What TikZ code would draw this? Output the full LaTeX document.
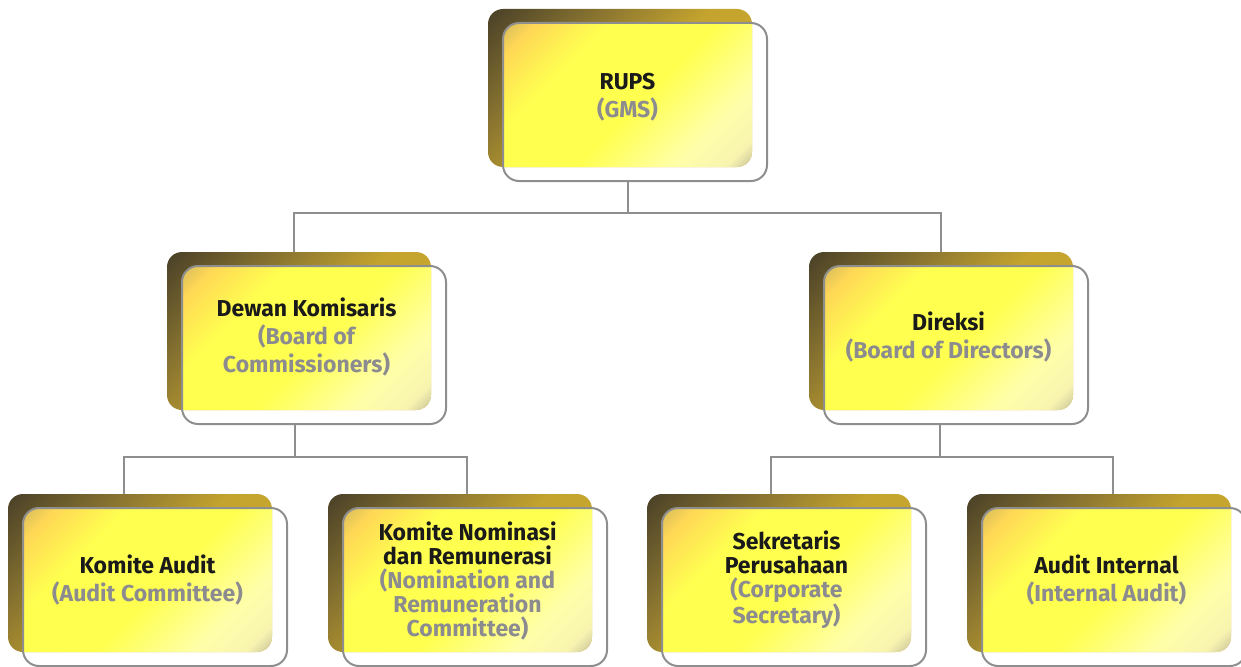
\documentclass[tikz,border=0pt]{standalone}
\usepackage{fontspec}
\setmainfont{Fira Sans}
\definecolor{bk0}{HTML}{4A4128}
\definecolor{bk1}{HTML}{8A7530}
\definecolor{bk2}{HTML}{C4A42E}
\definecolor{bk3}{HTML}{D0AE30}
\definecolor{fy0}{HTML}{C4AE62}
\definecolor{fy1}{HTML}{FFD855}
\definecolor{fy2}{HTML}{FFFF50}
\definecolor{fy3}{HTML}{FFFFA8}
\definecolor{fy4}{HTML}{F8F4B0}
\definecolor{fy5}{HTML}{B8B090}
\definecolor{linegray}{HTML}{8E8E8E}
\definecolor{tgray}{HTML}{8B8B90}
\definecolor{tblack}{HTML}{1A1A1A}
\pgfdeclarehorizontalshading{backshade}{100bp}{color(0bp)=(bk0); color(15bp)=(bk0); color(34bp)=(bk1); color(52bp)=(bk2); color(100bp)=(bk3)}
\pgfdeclarehorizontalshading{frontshade}{100bp}{color(0bp)=(fy0); color(17bp)=(fy0); color(25bp)=(fy1); color(37bp)=(fy2); color(56bp)=(fy2); color(72bp)=(fy3); color(81bp)=(fy4); color(87bp)=(fy5); color(100bp)=(fy5)}
\tikzset{
  backbox/.style={shade, shading=backshade, shading angle=-45, rounded corners=15pt},
  frontfill/.style={shade, shading=frontshade, shading angle=-45, rounded corners=15pt},
  frontline/.style={draw=linegray, line width=2pt, rounded corners=16pt},
  conn/.style={draw=linegray, line width=2pt},
  lbl/.style={align=center, text=tblack, font=\bfseries\fontsize{23}{28}\selectfont, inner sep=0pt},
  lbltight/.style={lbl, font=\bfseries\fontsize{23}{24}\selectfont},
}
\newcommand\orgbox[6]{%
  \path[backbox] (#2,-#3) rectangle ++(264,-158);
  \begin{scope}
    \clip[rounded corners=16pt] (#2+15,-#3-14) rectangle ++(264,-158);
    \path[frontfill] (#2,-#3) rectangle ++(264,-158);
  \end{scope}
  \path[frontline] (#2+15,-#3-14) rectangle ++(264,-158);
  \node[#5] (#1) at (#2+139.5,-#3-#6) {#4};
}
\begin{document}
\begin{tikzpicture}[x=1pt,y=1pt]
\clip (0,0) rectangle (1241,-666);
\orgbox{rups}{488}{9}{RUPS\\\color{tgray}(GMS)}{lbl}{88}
\orgbox{dewan}{167}{252}{Dewan Komisaris\\\color{tgray}(Board of\\\color{tgray}Commissioners)}{lbl}{85}
\orgbox{direksi}{809}{252}{Direksi\\\color{tgray}(Board of Directors)}{lbl}{85}
\orgbox{audit}{8}{494}{Komite Audit\\\color{tgray}(Audit Committee)}{lbl}{86}
\orgbox{nomin}{328}{494}{Komite Nominasi\\dan Remunerasi\\\color{tgray}(Nomination and\\\color{tgray}Remuneration\\\color{tgray}Committee)}{lbltight}{87}
\orgbox{sekr}{647}{494}{Sekretaris\\Perusahaan\\\color{tgray}(Corporate\\\color{tgray}Secretary)}{lbltight}{86}
\orgbox{intern}{967}{494}{Audit Internal\\\color{tgray}(Internal Audit)}{lbl}{86}
% connection points
\coordinate (rups-out) at (628,-182);
\coordinate (dewan-in) at (294,-252);
\coordinate (direksi-in) at (941,-252);
\coordinate (dewan-out) at (295,-424);
\coordinate (direksi-out) at (940,-424);
\coordinate (audit-in) at (124,-494);
\coordinate (nomin-in) at (467,-494);
\coordinate (sekr-in) at (771,-494);
\coordinate (intern-in) at (1113,-494);
\draw[conn] (rups-out) -- ++(0,-31) -| (dewan-in);
\draw[conn] (rups-out) -- ++(0,-31) -| (direksi-in);
\draw[conn] (dewan-out) -- ++(0,-33) -| (audit-in);
\draw[conn] (dewan-out) -- ++(0,-33) -| (nomin-in);
\draw[conn] (direksi-out) -- ++(0,-33) -| (sekr-in);
\draw[conn] (direksi-out) -- ++(0,-33) -| (intern-in);
\end{tikzpicture}
\end{document}
